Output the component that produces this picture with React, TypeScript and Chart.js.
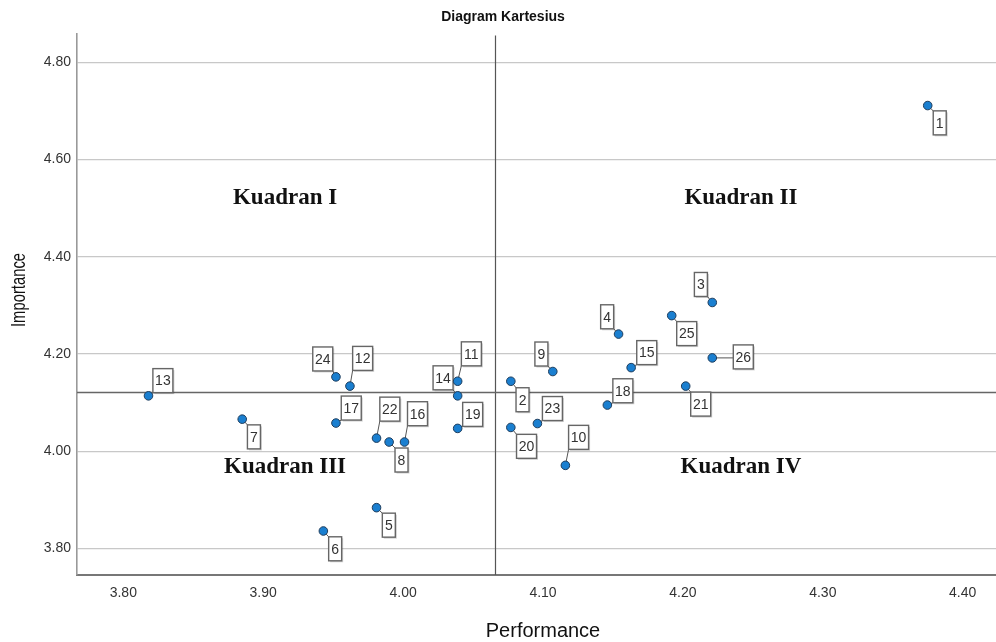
import React, { useEffect, useRef } from "react";
import { Chart, registerables } from "chart.js";

Chart.register(...registerables);

// ---- data ----
const pointIds = ["1","2","3","4","5","6","7","8","9","10","11","12","13","14","15","16","17","18","19","20","21","22","23","24","25","26"];
const performance = [4.375, 4.077, 4.221, 4.154, 3.981, 3.943, 3.885, 3.990, 4.107, 4.116, 4.039, 3.962, 3.818, 4.039, 4.163, 4.001, 3.952, 4.146, 4.039, 4.077, 4.202, 3.981, 4.096, 3.952, 4.192, 4.221];
const importance = [4.711, 4.144, 4.306, 4.241, 3.884, 3.836, 4.066, 4.019, 4.164, 3.971, 4.144, 4.134, 4.114, 4.114, 4.172, 4.019, 4.058, 4.095, 4.047, 4.049, 4.134, 4.027, 4.057, 4.153, 4.279, 4.192];
const xTicks = [3.8, 3.9, 4.0, 4.1, 4.2, 4.3, 4.4];
const yTicks = [3.8, 4.0, 4.2, 4.4, 4.6, 4.8];
const meanPerformance = 4.066;
const meanImportance = 4.121;
const quadrantNames = ["Kuadran I", "Kuadran II", "Kuadran III", "Kuadran IV"];
const quadrantX = [3.9156, 4.2415, 3.9156, 4.2415];
const quadrantY = [4.521, 4.521, 3.968, 3.968];
const chartTitle = "Diagram Kartesius";
const xTitle = "Performance";
const yTitle = "Importance";

// ---- label placement (pixels, relative to point) ----
const labelDx = [12, 11.7, -11.4, -11.4, 12.3, 11.8, 11.7, 12.4, -11.4, 13.2, 13.7, 12.7, 14.4, -14.6, 15.6, 13, 15.3, 15.5, 15, 15.7, 15, 13.3, 15, -13.2, 15, 31];
const labelDy = [17.3, 18.5, -18, -17.3, 17.5, 17.8, 17.7, 18, -17.5, -28, -27.4, -27.7, -15.2, -18, -15, -28.3, -15, -14.3, -14, 18.9, 18, -29, -15, -17.9, 18, -1];

const SANS = '"Liberation Sans", Arial, sans-serif';
const SERIF = '"Liberation Serif", "Times New Roman", serif';

const overlayPlugin = {
  id: "overlay",
  beforeDatasetsDraw(chart: any) {
    const ctx = chart.ctx;
    const xs = chart.scales.x;
    const ys = chart.scales.y;
    const area = chart.chartArea;
    ctx.save();
    // reference lines
    const mx = Math.round(xs.getPixelForValue(meanPerformance)) + 0.5;
    ctx.strokeStyle = "#555";
    ctx.lineWidth = 1.2;
    ctx.beginPath();
    ctx.moveTo(mx, area.top + 2);
    ctx.lineTo(mx, area.bottom);
    ctx.stroke();
    const my = ys.getPixelForValue(meanImportance);
    ctx.strokeStyle = "#666";
    ctx.lineWidth = 1.6;
    ctx.beginPath();
    ctx.moveTo(area.left, my);
    ctx.lineTo(area.right, my);
    ctx.stroke();

    // quadrant labels
    ctx.fillStyle = "#111";
    ctx.font = `bold 23px ${SERIF}`;
    ctx.textAlign = "center";
    ctx.textBaseline = "middle";
    quadrantNames.forEach((q, i) => {
      ctx.fillText(q, xs.getPixelForValue(quadrantX[i]), ys.getPixelForValue(quadrantY[i]));
    });

    // point labels
    ctx.font = `14px ${SANS}`;
    pointIds.forEach((id, i) => {
      const px = xs.getPixelForValue(performance[i]);
      const py = ys.getPixelForValue(importance[i]);
      const cx = px + labelDx[i];
      const cy = py + labelDy[i];
      const w = id.length > 1 ? 20 : 13;
      const h = 24;
      const l = cx - w / 2, t = cy - h / 2;
      const nx = Math.max(l, Math.min(px, l + w));
      const ny = Math.max(t, Math.min(py, t + h));
      ctx.strokeStyle = "#555";
      ctx.lineWidth = 1;
      ctx.beginPath();
      ctx.moveTo(px, py);
      ctx.lineTo(nx, ny);
      ctx.stroke();
      ctx.fillStyle = "rgba(0,0,0,0.18)";
      ctx.fillRect(l + 1.5, t + 1.5, w, h);
      ctx.fillStyle = "#fff";
      ctx.fillRect(l, t, w, h);
      ctx.strokeStyle = "#666";
      ctx.lineWidth = 1.4;
      ctx.strokeRect(l, t, w, h);
      ctx.fillStyle = "#333";
      ctx.textAlign = "center";
      ctx.textBaseline = "middle";
      ctx.fillText(id, cx, cy + 1);
    });
    ctx.restore();
  },
  afterDraw(chart: any) {
    const ctx = chart.ctx;
    ctx.save();
    ctx.fillStyle = "#111";
    ctx.textAlign = "center";
    ctx.textBaseline = "middle";
    ctx.font = `bold 14px ${SANS}`;
    ctx.fillText(chartTitle, 503, 17);
    ctx.font = `20px ${SANS}`;
    ctx.fillText(xTitle, 543, 631);
    ctx.translate(19, 290);
    ctx.rotate(-Math.PI / 2);
    ctx.scale(0.74, 1);
    ctx.fillText(yTitle, 0, 0);
    ctx.restore();
  },
};

export default function App() {
  const ref = useRef<HTMLCanvasElement | null>(null);
  useEffect(() => {
    if (!ref.current) return;
    const chart = new Chart(ref.current, {
      type: "scatter",
      data: {
        datasets: [
          {
            data: performance.map((x, i) => ({ x, y: importance[i] })),
            backgroundColor: "#1a7fd0",
            borderColor: "#1f3d5c",
            borderWidth: 1,
            pointRadius: 4.3,
          },
        ],
      },
      options: {
        animation: false,
        responsive: true,
        maintainAspectRatio: false,
        layout: { autoPadding: false, padding: { top: 33.5, left: 0, right: 0, bottom: 0 } },
        plugins: { legend: { display: false }, tooltip: { enabled: false }, title: { display: false } },
        scales: {
          x: {
            type: "linear",
            min: 3.7669,
            max: 4.4238,
            afterBuildTicks: (s: any) => { s.ticks = xTicks.map((v) => ({ value: v })); },
            afterFit: (s: any) => { s.height = 67; },
            grid: { display: false, drawTicks: false },
            border: { display: true, color: "#777", width: 2 },
            ticks: {
              padding: 10,
              color: "#333",
              font: { family: SANS, size: 14 },
              callback: (v: any) => Number(v).toFixed(2),
              maxRotation: 0,
            },
          },
          y: {
            type: "linear",
            min: 3.7455,
            max: 4.8592,
            afterBuildTicks: (s: any) => { s.ticks = yTicks.map((v) => ({ value: v })); },
            afterFit: (s: any) => { s.width = 77; },
            grid: { color: "#c8c8c8", lineWidth: 1.3, drawTicks: false },
            border: { display: true, color: "#999", width: 1.6 },
            ticks: {
              padding: 6,
              color: "#333",
              font: { family: SANS, size: 14 },
              callback: (v: any) => Number(v).toFixed(2),
            },
          },
        },
      },
      plugins: [overlayPlugin],
    });
    return () => chart.destroy();
  }, []);
  return (
    <div style={{ position: "fixed", left: 0, top: 0, width: 996, height: 642, background: "#fff" }}>
      <canvas ref={ref} />
    </div>
  );
}
